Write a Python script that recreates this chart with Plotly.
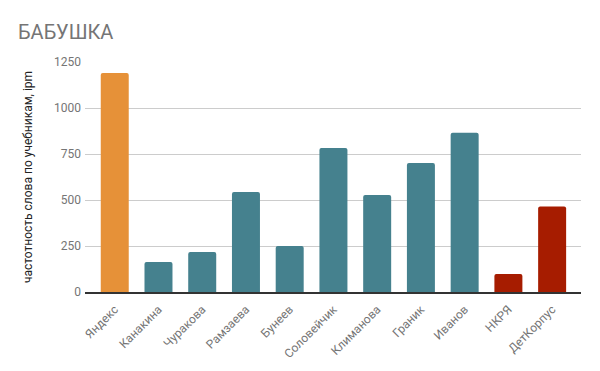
import plotly.graph_objects as go

categories = ["Яндекс", "Канакина", "Чуракова", "Рамзаева", "Бунеев", "Соловейчик",
              "Климанова", "Граник", "Иванов", "НКРЯ", "ДетКорпус"]
values = [1190, 163, 217, 543, 250, 783, 527, 701, 866, 98, 464]
colors = ["#e69138"] + ["#45818e"] * 8 + ["#a61c00"] * 2
y_ticks = [0, 250, 500, 750, 1000, 1250]

W, H = 592, 363  # page body has an 8px margin
fig = go.Figure(go.Bar(
    x=list(range(len(categories))), y=values,
    marker=dict(color=colors, line=dict(width=0)),
    width=0.64,
))
fig.update_layout(
    width=W, height=H,
    margin=dict(l=77, r=19, t=54, b=79),
    paper_bgcolor="white", plot_bgcolor="white",
    font=dict(family="Roboto", color="#757575", size=12),
    barcornerradius=2,
    title=dict(text="БАБУШКА", x=10 / W, xanchor="left", y=1 - 24 / H, yanchor="middle",
               font=dict(family="Roboto", size=20, color="#757575")),
    showlegend=False,
)
fig.update_xaxes(
    tickmode="array", tickvals=list(range(len(categories))), ticktext=categories,
    tickangle=-45, range=[-0.68, 10.66], showgrid=False, automargin=False,
    showline=True, linecolor="#333333", linewidth=1.5, ticks="",
    ticklabelstandoff=4,
    tickfont=dict(size=12, color="#757575"),
)
fig.update_yaxes(
    range=[0, 1250], tickvals=y_ticks, showgrid=True, gridcolor="#cccccc",
    zeroline=False, ticks="", ticklen=0, automargin=False,
    ticklabelstandoff=3,
    title=dict(text="частотность слова по учебникам, ipm", standoff=18,
               font=dict(size=12, color="#222222")),
    tickfont=dict(size=12, color="#757575"),
)
fig.write_html("out.html")
